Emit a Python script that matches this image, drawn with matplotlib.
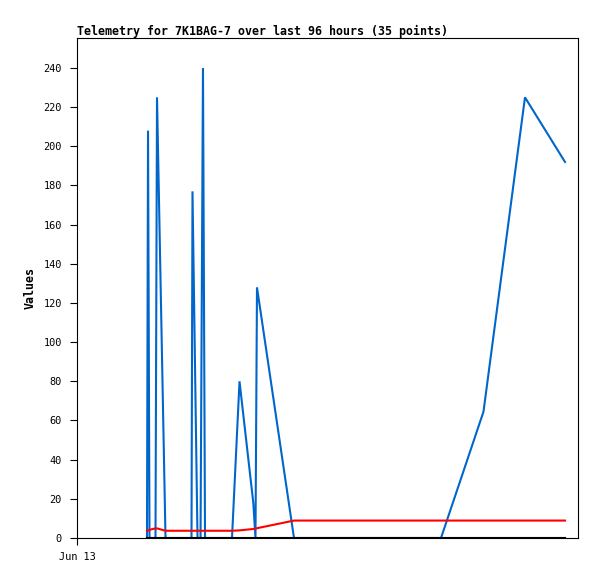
#!/usr/bin/env python3
"""Telemetry chart for 7K1BAG-7, last 96 hours, redrawn with matplotlib."""
import matplotlib
matplotlib.use("Agg")
import matplotlib.pyplot as plt

# hours since Jun 13 00:00
hours = [13.41, 13.61, 13.89, 15.04, 15.33, 16.96, 21.94, 22.13, 23.09,
         23.67, 24.14, 24.53, 29.70, 31.14, 33.78, 34.20, 34.49, 41.58,
         69.75, 77.89, 85.84, 93.51]
blue_vals = [0, 208, 0, 0, 225, 0, 0, 177, 0,
             0, 240, 0, 0, 80, 18, 0, 128, 0,
             0, 64.5, 225, 192]
red_vals = [3.7, 3.8, 4.2, 4.9, 4.9, 3.7, 3.7, 3.7, 3.7,
            3.7, 3.7, 3.7, 3.7, 3.9, 4.6, 4.8, 5.0, 8.9,
            8.9, 8.9, 8.9, 8.9]
black_vals = [0] * len(hours)

y_ticks = list(range(0, 241, 20))
x_tick_labels = ["Jun 13"]

MONO = ["DejaVu Sans Mono"]

fig = plt.figure(figsize=(5.97, 5.79), dpi=100)
ax = fig.add_axes([77 / 597, 1 - 538 / 579, 501 / 597, 500 / 579])

ax.plot(hours, blue_vals, color="#0066cc", lw=1.5, solid_joinstyle="miter")
ax.plot(hours, red_vals, color="#ff0000", lw=1.5)
ax.plot(hours, black_vals, color="#000000", lw=1.5)

ax.set_xlim(0, 96)
ax.set_ylim(0, 255.3)
ax.set_yticks(y_ticks)
ax.set_yticklabels([str(v) for v in y_ticks], family=MONO, fontsize=7.4)
ax.set_xticks([0])
ax.set_xticklabels(x_tick_labels, family=MONO, fontsize=7.4)
ax.tick_params(axis="both", direction="out", length=5, width=0.8, pad=6)
ax.tick_params(axis="x", pad=5)

for s in ax.spines.values():
    s.set_linewidth(0.8)

ax.set_ylabel("Values", family=MONO, fontsize=8.4, fontweight="bold", labelpad=5)
ax.set_title("Telemetry for 7K1BAG-7 over last 96 hours (35 points)",
             loc="left", family=MONO, fontsize=8.4, fontweight="bold", pad=2)

fig.savefig("out.png", dpi=100)
